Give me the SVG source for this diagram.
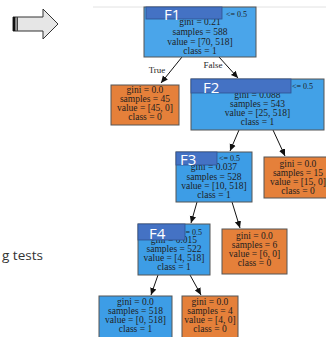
<svg xmlns="http://www.w3.org/2000/svg" width="326" height="337" viewBox="0 0 326 337">
  <style>
    .blue { fill: #3d9de6; stroke: #555; stroke-width: 1; }
    .orange { fill: #e5803a; stroke: #555; stroke-width: 1; }
    .bar { fill: #4472c4; stroke: #2f528f; stroke-width: 0.8; }
    .t { font-family: "Liberation Serif", "Times New Roman", serif; font-size: 9.5px; fill: #1e1e1e; text-anchor: middle; }
    .thr { font-family: "Liberation Serif", "Times New Roman", serif; font-size: 8px; fill: #1e1e1e; }
    .f { font-family: "Open Sans", "Liberation Sans", sans-serif; font-size: 15px; fill: #ffffff; }
    .edge { stroke: #111; stroke-width: 1; fill: none; marker-end: url(#ah); }
    .lbl { font-family: "Liberation Serif", "Times New Roman", serif; font-size: 9px; fill: #1e1e1e; text-anchor: middle; }
  </style>
  <defs>
    <marker id="ah" markerWidth="8" markerHeight="8" refX="7" refY="4" orient="auto" markerUnits="userSpaceOnUse">
      <path d="M0,0.8 L7,4 L0,7.2 Z" fill="#111"/>
    </marker>
  </defs>

  <rect width="326" height="337" fill="#ffffff"/>

  <!-- block arrow on the left -->
  <g id="block-arrow">
    <path d="M13,17 L43,17 L43,9 L58,24 L43,39 L43,31 L13,31 Z" fill="#e6e6e6" stroke="#333" stroke-width="1"/>
    <rect x="13" y="17" width="2.5" height="14" fill="#111"/>
    <rect x="16.5" y="17" width="1.5" height="14" fill="#444"/>
  </g>

  <!-- slide caption fragment -->
  <text x="2" y="260" font-family="Open Sans, Liberation Sans, sans-serif" font-size="13.5" fill="#333">g tests</text>

  <!-- faint frame line -->
  <line x1="93" y1="7" x2="326" y2="7" stroke="#e2e2e2" stroke-width="1"/>

  <!-- connectors -->
  <g id="connectors">
    <line class="edge" x1="182" y1="57" x2="161" y2="83"/>
    <line class="edge" x1="219" y1="57" x2="238" y2="78"/>
    <line class="edge" x1="239" y1="130" x2="230" y2="151"/>
    <line class="edge" x1="273" y1="130" x2="285" y2="156"/>
    <line class="edge" x1="197" y1="202" x2="191" y2="223"/>
    <line class="edge" x1="232" y1="202" x2="240" y2="228"/>
    <line class="edge" x1="158" y1="275" x2="151" y2="295"/>
    <line class="edge" x1="190" y1="275" x2="201" y2="295"/>
    <text class="lbl" x="157" y="73">True</text>
    <text class="lbl" x="213" y="68">False</text>
  </g>

  <!-- root node -->
  <g id="node-f1">
    <rect class="blue" x="144" y="7" width="112" height="50" style="fill:#4aa5ea"/>
    <text class="thr" x="226" y="17">&lt;= 0.5</text>
    <text class="t" x="200" y="25">gini = 0.21</text>
    <text class="t" x="200" y="35">samples = 588</text>
    <text class="t" x="200" y="45">value = [70, 518]</text>
    <text class="t" x="200" y="54">class = 1</text>
    <rect class="bar" x="146" y="7" width="76" height="12"/>
    <text class="f" x="164" y="19.5">F1</text>
  </g>

  <!-- left leaf -->
  <g id="node-leaf-45">
    <rect class="orange" x="111" y="85" width="68" height="40"/>
    <text class="t" x="145" y="93">gini = 0.0</text>
    <text class="t" x="145" y="102">samples = 45</text>
    <text class="t" x="145" y="111">value = [45, 0]</text>
    <text class="t" x="145" y="120">class = 0</text>
  </g>

  <!-- F2 node -->
  <g id="node-f2">
    <rect class="blue" x="191" y="79" width="133" height="51" style="fill:#42a1e7"/>
    <text class="thr" x="292" y="89">&lt;= 0.5</text>
    <text class="t" x="257.5" y="98">gini = 0.088</text>
    <text class="t" x="257.5" y="107">samples = 543</text>
    <text class="t" x="257.5" y="116">value = [25, 518]</text>
    <text class="t" x="257.5" y="125">class = 1</text>
    <rect class="bar" x="191" y="79" width="100" height="14"/>
    <text class="f" x="203" y="93">F2</text>
  </g>

  <!-- F3 node -->
  <g id="node-f3">
    <rect class="blue" x="176" y="152" width="76" height="50"/>
    <text class="thr" x="219" y="161">&lt;= 0.5</text>
    <text class="t" x="214" y="170">gini = 0.037</text>
    <text class="t" x="214" y="180">samples = 528</text>
    <text class="t" x="214" y="189">value = [10, 518]</text>
    <text class="t" x="214" y="198">class = 1</text>
    <rect class="bar" x="176" y="152" width="41" height="13"/>
    <text class="f" x="180" y="165">F3</text>
  </g>

  <!-- right leaf under F2 -->
  <g id="node-leaf-15">
    <rect class="orange" x="264" y="157" width="68" height="41"/>
    <text class="t" x="298" y="167">gini = 0.0</text>
    <text class="t" x="298" y="176">samples = 15</text>
    <text class="t" x="298" y="185">value = [15, 0]</text>
    <text class="t" x="298" y="194">class = 0</text>
  </g>

  <!-- F4 node -->
  <g id="node-f4">
    <rect class="blue" x="138" y="224" width="72" height="51"/>
    <text class="thr" x="181" y="235">&lt;= 0.5</text>
    <text class="t" x="174" y="243">gini = 0.015</text>
    <text class="t" x="174" y="252">samples = 522</text>
    <text class="t" x="174" y="261">value = [4, 518]</text>
    <text class="t" x="174" y="270">class = 1</text>
    <rect class="bar" x="138" y="224" width="47" height="16"/>
    <text class="f" x="149" y="238.5">F4</text>
  </g>

  <!-- right leaf under F3 -->
  <g id="node-leaf-6">
    <rect class="orange" x="222" y="229" width="65" height="45"/>
    <text class="t" x="254.5" y="239">gini = 0.0</text>
    <text class="t" x="254.5" y="248">samples = 6</text>
    <text class="t" x="254.5" y="257">value = [6, 0]</text>
    <text class="t" x="254.5" y="266">class = 0</text>
  </g>

  <!-- leaves under F4 -->
  <g id="node-leaf-518">
    <rect class="blue" x="99" y="296" width="73" height="48"/>
    <text class="t" x="135.5" y="305">gini = 0.0</text>
    <text class="t" x="135.5" y="314">samples = 518</text>
    <text class="t" x="135.5" y="323">value = [0, 518]</text>
    <text class="t" x="135.5" y="332">class = 1</text>
  </g>

  <g id="node-leaf-4">
    <rect class="orange" x="182" y="296" width="56" height="48"/>
    <text class="t" x="210" y="305">gini = 0.0</text>
    <text class="t" x="210" y="314">samples = 4</text>
    <text class="t" x="210" y="323">value = [4, 0]</text>
    <text class="t" x="210" y="332">class = 0</text>
  </g>
</svg>
